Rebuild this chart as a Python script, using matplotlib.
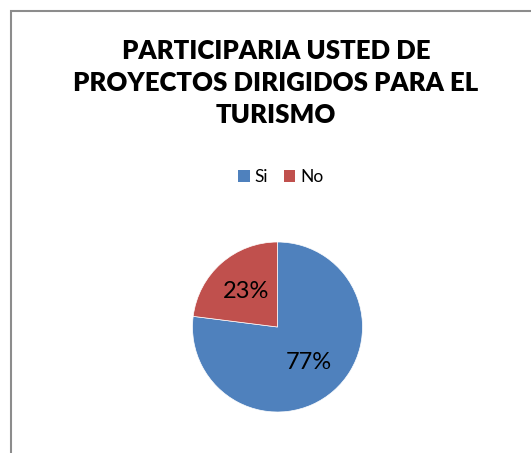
import matplotlib.pyplot as plt
from matplotlib.patches import Rectangle, Patch

labels = ["Si", "No"]
values = [77, 23]
colors = ["#4F81BD", "#C0504D"]
title = "PARTICIPARIA USTED DE\nPROYECTOS DIRIGIDOS PARA EL\nTURISMO"

W, H = 531, 453
fig = plt.figure(figsize=(W / 100, H / 100), dpi=100)
plt.rcParams['font.family'] = ['Lato', 'DejaVu Sans']

# chart frame (runs off the right and bottom edges)
fig.patches.append(Rectangle((10.5 / W, -0.1), 1.2, 1 - 10.5 / H + 0.1,
                             transform=fig.transFigure, fill=False,
                             edgecolor="#8c8c8c", linewidth=1.5))

fig.text(276 / W, 1 - 83 / H, title, ha="center", va="center",
         fontsize=18.5, fontweight="heavy", linespacing=1.4)

handles = [Patch(facecolor=c, label=l) for c, l in zip(colors, labels)]
fig.legend(handles=handles, loc="center", bbox_to_anchor=(281 / W, 1 - 177 / H),
           ncol=2, frameon=False, fontsize=12.5, handlelength=0.65, handleheight=0.65,
           handletextpad=0.3, columnspacing=0.9)

cx, cy, r = 277.5, 327, 85
ax = fig.add_axes([(cx - r) / W, (H - cy - r) / H, 2 * r / W, 2 * r / H])
wedges, texts, autotexts = ax.pie(values, colors=colors, startangle=90,
                                  counterclock=False, autopct="%d%%",
                                  pctdistance=0.56, radius=1,
                                  wedgeprops=dict(edgecolor="white", linewidth=0.5),
                                  textprops=dict(fontsize=17, color="black"))
ax.set_xlim(-1, 1)
ax.set_ylim(-1, 1)
ax.set_aspect("equal")
ax.axis("off")

fig.savefig("out.png", dpi=100)
